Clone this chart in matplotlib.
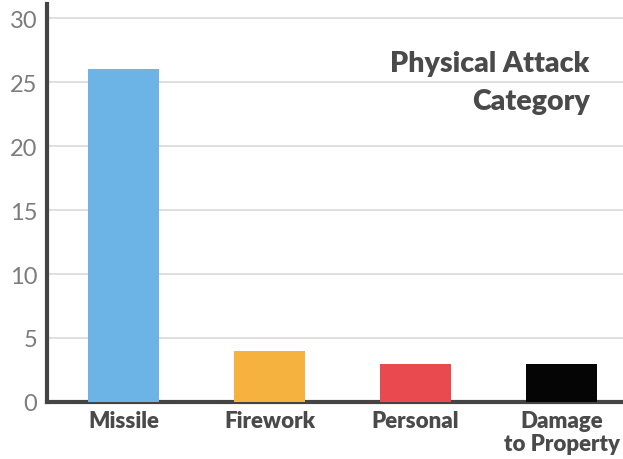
import matplotlib

matplotlib.use("Agg")
import matplotlib.pyplot as plt

categories = ["Missile", "Firework", "Personal", "Damage\nto Property"]
counts = [26, 4, 3, 3]
bar_colors = ["#6cb3e6", "#f6b23e", "#e84a4f", "#050505"]
y_ticks = [0, 5, 10, 15, 20, 25, 30]

plt.rcParams["font.family"] = ["Lato", "DejaVu Sans"]

fig = plt.figure(figsize=(6.23, 4.6), dpi=100)
ax = fig.add_axes([0.0754, 0.124, 0.9246, 0.865])

positions = list(range(len(categories)))
ax.bar(positions, counts, width=0.49, color=bar_colors, zorder=3)

ax.set_xlim(-0.524, 3.42)
ax.set_ylim(0, 31.1)
ax.set_yticks(y_ticks)
ax.set_yticklabels([str(t) for t in y_ticks], fontsize=17, color="#7c7c7c",
                   fontweight="normal")
ax.set_xticks(positions)
ax.set_xticklabels(categories, fontsize=16, fontweight="heavy", color="#4a4a4a",
                   linespacing=1.1)
ax.tick_params(axis="both", length=0)
ax.tick_params(axis="y", pad=7)
ax.tick_params(axis="x", pad=6)

ax.yaxis.grid(True, color="#d9d9d9", linewidth=1.2, zorder=0)
ax.set_axisbelow(True)

for side in ("top", "right"):
    ax.spines[side].set_visible(False)
for side in ("left", "bottom"):
    ax.spines[side].set_color("#444444")
    ax.spines[side].set_linewidth(3)

ax.text(0.942, 0.885, "Physical Attack\nCategory", transform=ax.transAxes,
        ha="right", va="top", fontsize=20.5, fontweight="heavy", color="#4a4a4a",
        linespacing=1.6)

fig.savefig("out.png", dpi=100)
